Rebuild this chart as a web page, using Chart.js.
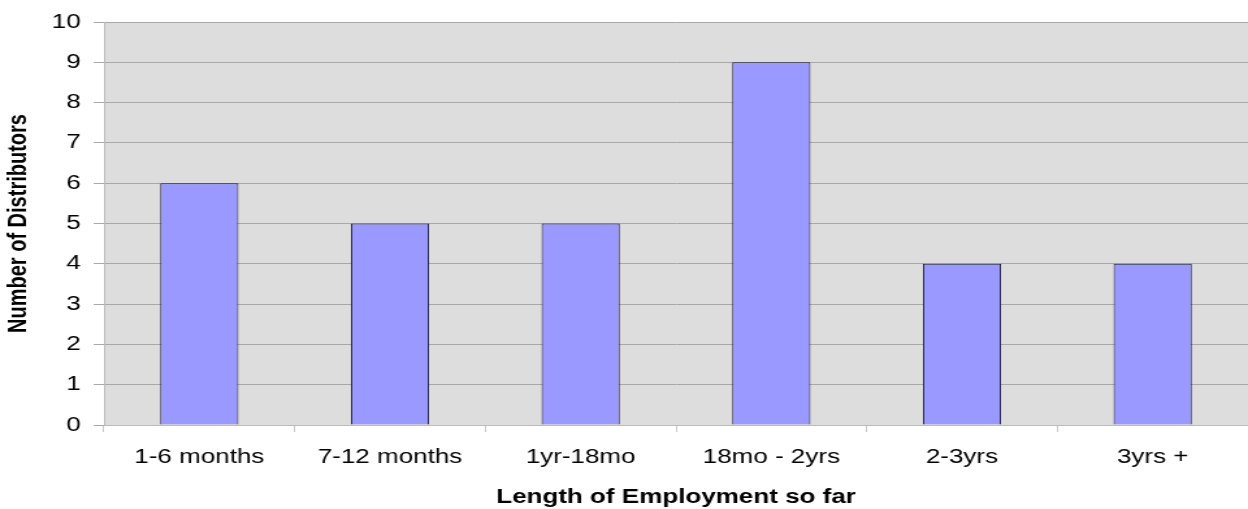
<!DOCTYPE html>
<html>
<head>
<meta charset="utf-8">
<script src="https://cdn.jsdelivr.net/npm/chart.js@4"></script>
<style>
  html, body { margin: 0; padding: 0; background: #fff; overflow: hidden; }
  /* the source picture is stretched sideways, so draw narrower and widen it */
  .wrap { width: 960px; height: 509px; transform: scaleX(1.3); transform-origin: 0 0; }
</style>
</head>
<body>
<div class="wrap"><canvas id="myChart"></canvas></div>
<script>
// Data
const categories = ['1-6 months', '7-12 months', '1yr-18mo', '18mo - 2yrs', '2-3yrs', '3yrs +'];
const distributors = [6, 5, 5, 9, 4, 4];
const yTicks = [0, 1, 2, 3, 4, 5, 6, 7, 8, 9, 10];

// grey plot background
const plotBg = {
    id: 'plotBg',
    beforeDraw(chart) {
        const a = chart.chartArea;
        const c = chart.ctx;
        c.save();
        c.fillStyle = '#dddddd';
        c.fillRect(a.left, a.top, a.right - a.left, a.bottom - a.top);
        c.restore();
    }
};

const ctx = document.getElementById('myChart').getContext('2d');
const myChart = new Chart(ctx, {
    type: 'bar',
    data: {
        labels: categories,
        datasets: [{
            label: 'Number of Distributors',
            data: distributors,
            backgroundColor: '#9999ff',
            borderColor: '#14143a',
            borderWidth: 1,
            categoryPercentage: 1,
            barPercentage: 0.41
        }]
    },
    options: {
        responsive: true,
        maintainAspectRatio: false,
        animation: false,
        layout: {
            padding: { top: 22, right: 0, bottom: 0, left: 0 }
        },
        plugins: {
            legend: { display: false },
            tooltip: { enabled: false }
        },
        scales: {
            x: {
                afterFit(scale) { scale.height = 84; },
                grid: {
                    offset: true,
                    drawOnChartArea: false,
                    drawTicks: true,
                    tickLength: 7,
                    color: '#c8c8c8'
                },
                border: { color: '#bbbbbb' },
                ticks: {
                    color: '#000',
                    padding: 13,
                    maxRotation: 0,
                    font: { family: 'Liberation Sans', size: 20 }
                },
                title: {
                    display: true,
                    text: 'Length of Employment so far',
                    color: '#000',
                    padding: { top: 0, bottom: 0 },
                    font: { family: 'Liberation Sans', size: 20, weight: 'bold' }
                }
            },
            y: {
                min: 0,
                max: 10,
                afterFit(scale) { scale.width = 80; },
                afterBuildTicks(scale) {
                    scale.ticks = yTicks.map(v => ({ value: v }));
                },
                grid: {
                    color: '#a8a8a8',
                    tickLength: 8,
                    lineWidth: 1
                },
                border: { color: '#bbbbbb' },
                ticks: {
                    color: '#000',
                    padding: 10,
                    font: { family: 'Liberation Sans', size: 20 }
                },
                title: {
                    display: true,
                    text: 'Number of Distributors',
                    color: '#000',
                    padding: { top: 2, bottom: 0 },
                    font: { family: 'Liberation Sans', size: 20, weight: 'bold' }
                }
            }
        }
    },
    plugins: [plotBg]
});
</script>
</body>
</html>
